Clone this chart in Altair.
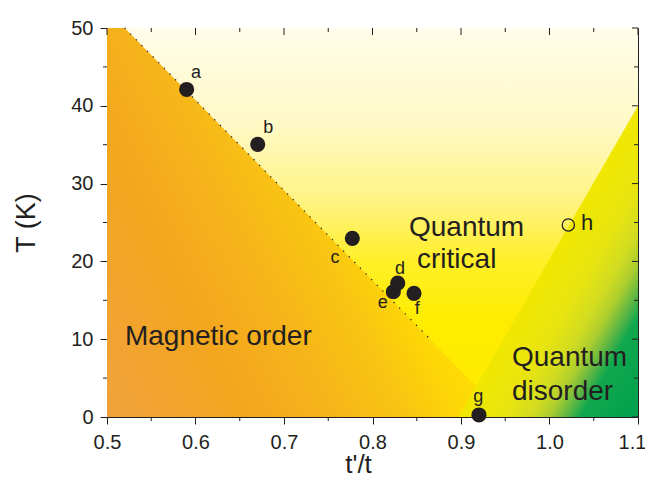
import altair as alt
import pandas as pd

FONT = "Liberation Sans"
INK = "#231F20"

# ---------------- data ----------------
x_domain = [0.5, 1.1]
y_domain = [0, 50]
x_major = [0.5, 0.6, 0.7, 0.8, 0.9, 1.0, 1.1]
x_minor = [0.55, 0.65, 0.75, 0.85, 0.95, 1.05]
y_major = [0, 10, 20, 30, 40, 50]
y_minor = [5, 15, 25, 35, 45]

pt_names = ["a", "b", "c", "d", "e", "f", "g"]
pt_x = [0.590, 0.6703, 0.7772, 0.8285, 0.8235, 0.8469, 0.9203]
pt_y = [42.1, 35.05, 22.97, 17.2, 16.1, 15.9, 0.26]
lab_x = [0.6006, 0.6823, 0.7576, 0.8311, 0.8115, 0.8506, 0.9196]
lab_y = [44.2, 37.1, 20.5, 19.0, 14.7, 13.9, 2.6]

open_names = ["h"]
open_x = [1.0213]
open_y = [24.68]
open_lab_x = [1.0424]
open_lab_y = [24.9]

mag_x = [0.5, 0.520, 0.9514]
mag_y = [50, 50, 0]
dis_x = [0.897, 1.1]
dis_y = [0, 40]
line_x = [0.520, 0.8638]
line_y = [50, 10.15]

region_text = ["Magnetic order", "Quantum", "critical", "Quantum", "disorder"]
region_x = [0.5203, 0.8412, 0.8503, 0.9576, 0.9576]
region_y = [9.25, 23.26, 19.15, 6.56, 2.19]

# ---------------- styling ----------------
W, H = 531, 389

bg_grad = {"gradient": "linear", "x1": 0, "y1": 0, "x2": 0, "y2": 1,
           "stops": [{"offset": 0.0, "color": "#FFFDEA"},
                     {"offset": 0.25, "color": "#FFF9C6"},
                     {"offset": 0.45, "color": "#FFF380"},
                     {"offset": 0.6, "color": "#FFEF28"},
                     {"offset": 0.75, "color": "#FFEC00"},
                     {"offset": 1.0, "color": "#FFEA00"}]}
mag_grad = {"gradient": "linear", "x1": 0, "y1": 1, "x2": 1, "y2": 0.5,
            "stops": [{"offset": 0.0, "color": "#EFA23C"},
                      {"offset": 0.28, "color": "#F3A61E"},
                      {"offset": 0.45, "color": "#F6B41A"},
                      {"offset": 0.6, "color": "#F9C412"},
                      {"offset": 0.72, "color": "#FDD806"},
                      {"offset": 0.85, "color": "#FFE400"},
                      {"offset": 1.0, "color": "#FFE800"}]}
dis_grad = {"gradient": "linear", "x1": 0.5, "y1": 0.5, "x2": 1, "y2": 1,
            "stops": [{"offset": 0.0, "color": "#F0E800"},
                      {"offset": 0.25, "color": "#E8E410"},
                      {"offset": 0.4, "color": "#D2DC20"},
                      {"offset": 0.5, "color": "#AECE2E"},
                      {"offset": 0.6, "color": "#5CB644"},
                      {"offset": 0.68, "color": "#10A84E"},
                      {"offset": 1.0, "color": "#00A04D"}]}

xs = alt.Scale(domain=x_domain, nice=False, zero=False)
ys = alt.Scale(domain=y_domain, nice=False, zero=False)

xaxis = alt.Axis(values=x_major, format=".1f", title="t'/t", grid=False,
                 titleFont=FONT, titleFontSize=26, titleFontWeight="normal", titleColor=INK,
                 titleX=251, titleY=55, titleBaseline="alphabetic",
                 labelFont=FONT, labelFontSize=20, labelColor=INK, labelPadding=8,
                 labelFlush=False, labelOverlap=False,
                 labelOffset={"condition": {"test": "datum.value > 1.05", "value": -6}, "value": 0},
                 tickSize=7, tickColor=INK, domainColor=INK)
yaxis = alt.Axis(values=y_major, title="T (K)", grid=False,
                 titleFont=FONT, titleFontSize=27, titleFontWeight="normal", titleColor=INK,
                 titlePadding=30,
                 labelFont=FONT, labelFontSize=20, labelColor=INK, labelPadding=7,
                 labelFlush=False, labelOverlap=False,
                 tickSize=7, tickColor=INK, domainColor=INK)


def X(f):
    return alt.X(f, type="quantitative", scale=xs, axis=xaxis)


def Y(f):
    return alt.Y(f, type="quantitative", scale=ys, axis=yaxis)


bg_df = pd.DataFrame({"x": [x_domain[0]], "x2": [x_domain[1]],
                      "y": [y_domain[0]], "y2": [y_domain[1]]})
bg = alt.Chart(bg_df).mark_rect(fill=bg_grad).encode(
    x=X("x"), x2="x2", y=Y("y"), y2="y2")

mag = alt.Chart(pd.DataFrame({"x": mag_x, "y": mag_y})).mark_area(
    fill=mag_grad, opacity=1).encode(x=X("x"), y=Y("y"), y2=alt.datum(0))

dis = alt.Chart(pd.DataFrame({"x": dis_x, "y": dis_y})).mark_area(
    fill=dis_grad, opacity=1).encode(x=X("x"), y=Y("y"), y2=alt.datum(0))

dline = alt.Chart(pd.DataFrame({"x": line_x, "y": line_y})).mark_line(
    color=INK, strokeDash=[1.2, 6.8], strokeWidth=1.3).encode(x=X("x"), y=Y("y"))

# ticks (minor outward, mirrored inward on top/right)
xmaj_df = pd.DataFrame({"v": x_major})
xmin_df = pd.DataFrame({"v": x_minor})
ymaj_df = pd.DataFrame({"v": y_major})
ymin_df = pd.DataFrame({"v": y_minor})
tick_style = dict(color=INK, strokeWidth=1)
t_bot_min = alt.Chart(xmin_df).mark_rule(**tick_style).encode(
    x=X("v"), y=alt.value(H), y2=alt.value(H + 4))
t_left_min = alt.Chart(ymin_df).mark_rule(**tick_style).encode(
    y=Y("v"), x=alt.value(0), x2=alt.value(-4))
t_top_maj = alt.Chart(xmaj_df).mark_rule(**tick_style).encode(
    x=X("v"), y=alt.value(0), y2=alt.value(7))
t_top_min = alt.Chart(xmin_df).mark_rule(**tick_style).encode(
    x=X("v"), y=alt.value(0), y2=alt.value(4))
t_right_maj = alt.Chart(ymaj_df).mark_rule(**tick_style).encode(
    y=Y("v"), x=alt.value(W), x2=alt.value(W - 6))
t_right_min = alt.Chart(ymin_df).mark_rule(**tick_style).encode(
    y=Y("v"), x=alt.value(W), x2=alt.value(W - 4))

pts_df = pd.DataFrame({"name": pt_names, "x": pt_x, "y": pt_y, "lx": lab_x, "ly": lab_y})
pts = alt.Chart(pts_df).mark_circle(size=230, color=INK, opacity=1).encode(
    x=X("x"), y=Y("y"))
pt_lab = alt.Chart(pts_df).mark_text(font=FONT, fontSize=18, color=INK,
                                     align="center", baseline="middle").encode(
    x=X("lx"), y=Y("ly"), text="name")

open_df = pd.DataFrame({"name": open_names, "x": open_x, "y": open_y,
                        "lx": open_lab_x, "ly": open_lab_y})
opn = alt.Chart(open_df).mark_point(size=150, color=INK, strokeWidth=1.3,
                                    filled=False, opacity=1).encode(
    x=X("x"), y=Y("y"))
opn_lab = alt.Chart(open_df).mark_text(font=FONT, fontSize=22, color=INK,
                                       align="center", baseline="middle").encode(
    x=X("lx"), y=Y("ly"), text="name")

reg_df = pd.DataFrame({"t": region_text, "x": region_x, "y": region_y})
regs = alt.Chart(reg_df).mark_text(font=FONT, fontSize=28, color=INK,
                                   align="left", baseline="alphabetic").encode(
    x=X("x"), y=Y("y"), text="t")

chart = alt.layer(
    bg, mag, dis, dline,
    t_bot_min, t_left_min, t_top_maj, t_top_min, t_right_maj, t_right_min,
    pts, pt_lab, opn, opn_lab, regs
).properties(
    width=W, height=H,
    autosize=alt.AutoSizeParams(type="none"),
    padding={"left": 99, "top": 20, "right": 7, "bottom": 62},
).configure_view(stroke=INK, strokeWidth=1)

chart.save("out.html", embed_options={"renderer": "svg", "actions": False})
